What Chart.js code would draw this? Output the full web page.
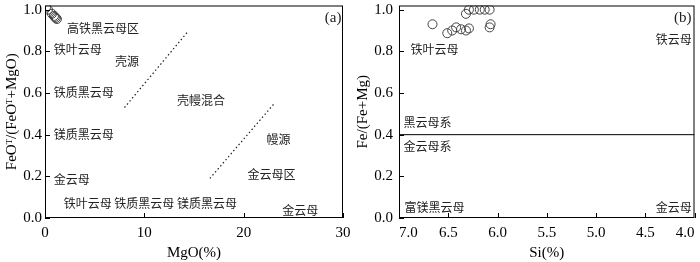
<!DOCTYPE html>
<html lang="zh">
<head>
<meta charset="UTF-8">
<title>黑云母分类图</title>
<script src="https://cdn.jsdelivr.net/npm/chart.js"></script>
<style>
  html,body{margin:0;padding:0;background:#fff;}
  .wrap{position:relative;width:700px;height:262px;}
  .box{position:absolute;top:0;width:350px;height:262px;}
  #boxA{left:0;} #boxB{left:350px;}
</style>
</head>
<body>
<div class="wrap">
  <div class="box" id="boxA"><canvas id="chartA"></canvas></div>
  <div class="box" id="boxB"><canvas id="chartB"></canvas></div>
</div>
<script>
// (a) MgO vs FeOT/(FeOT+MgO)
const mgo      = [0.1, 0.3, 0.7, 0.9, 1.0, 1.1, 1.2];
const feRatioA = [1.01, 1.0, 0.98, 0.97, 0.965, 0.96, 0.955];
const crustLineX  = [8.0, 14.3];
const crustLineY  = [0.53, 0.89];
const mantleLineX = [16.6, 23.0];
const mantleLineY = [0.19, 0.545];
const xTicksA = [0, 10, 20, 30];

// (b) Si vs Fe/(Fe+Mg)
const si       = [6.66, 6.51, 6.46, 6.42, 6.37, 6.32, 6.29, 6.32, 6.29, 6.24, 6.18, 6.13, 6.08, 6.08, 6.07];
const feRatioB = [0.93, 0.887, 0.90, 0.915, 0.906, 0.90, 0.91, 0.98, 1.0, 1.0, 1.0, 1.0, 1.0, 0.915, 0.93];
const boundaryX = [7.0, 4.0];
const boundaryY = [0.4, 0.4];
const xTicksB = [4.0, 4.5, 5.0, 5.5, 6.0, 6.5, 7.0];

const yTicks = [0, 0.2, 0.4, 0.6, 0.8, 1.0];

// text notes placed in data units
const notesA = [
  {t:'高铁黑云母区', x:5.84, y:0.91},
  {t:'铁叶云母', x:3.3, y:0.81},
  {t:'壳源', x:8.26, y:0.75},
  {t:'铁质黑云母', x:3.9, y:0.605},
  {t:'壳幔混合', x:15.7, y:0.563},
  {t:'镁质黑云母', x:3.9, y:0.40},
  {t:'幔源', x:23.5, y:0.376},
  {t:'金云母', x:2.7, y:0.183},
  {t:'金云母区', x:22.8, y:0.211},
  {t:'铁叶云母', x:4.3, y:0.07},
  {t:'铁质黑云母', x:10.0, y:0.07},
  {t:'镁质黑云母', x:16.3, y:0.07},
  {t:'金云母', x:25.7, y:0.038},
  {t:'(a)', x:29.0, y:0.962, serif:true}
];
const notesB = [
  {t:'铁叶云母', x:6.64, y:0.81},
  {t:'铁云母', x:4.21, y:0.855},
  {t:'黑云母系', x:6.71, y:0.46},
  {t:'金云母系', x:6.71, y:0.343},
  {t:'富镁黑云母', x:6.64, y:0.05},
  {t:'金云母', x:4.21, y:0.05},
  {t:'(b)', x:4.12, y:0.962, serif:true}
];

const serif = '"Liberation Serif","Times New Roman",serif';
const cjk = '12px "Noto Sans CJK SC",sans-serif';

// frame, inner tick marks and text notes
const frame = {
  id: 'frame',
  afterDatasetsDraw(chart, args, opts) {
    const {ctx, chartArea: a, scales: {x, y}} = chart;
    ctx.save();
    ctx.strokeStyle = '#000';
    ctx.lineWidth = 1;
    ctx.strokeRect(a.left + 0.5, a.top + 0.5, a.right - a.left - 1, a.bottom - a.top - 1);
    ctx.beginPath();
    x.ticks.forEach(t => {
      const px = Math.round(x.getPixelForValue(t.value)) + 0.5;
      ctx.moveTo(px, a.bottom); ctx.lineTo(px, a.bottom - 5);
    });
    y.ticks.forEach(t => {
      const py = Math.round(y.getPixelForValue(t.value)) + 0.5;
      ctx.moveTo(a.left, py); ctx.lineTo(a.left + 5, py);
    });
    ctx.stroke();
    ctx.fillStyle = '#222';
    ctx.textAlign = 'center';
    ctx.textBaseline = 'middle';
    (opts.notes || []).forEach(n => {
      ctx.font = n.serif ? '15px ' + serif : cjk;
      ctx.fillText(n.t, x.getPixelForValue(n.x), y.getPixelForValue(n.y));
    });
    ctx.restore();
  }
};

function fixTicks(values) {
  return scale => { scale.ticks = values.map(v => ({value: v})); };
}
function noPad(scale) {
  scale.paddingLeft = 0; scale.paddingRight = 0;
  scale.paddingTop = 0; scale.paddingBottom = 0;
}

function makeChart(id, cfg) {
  return new Chart(document.getElementById(id), {
    type: 'scatter',
    data: {datasets: cfg.datasets},
    options: {
      responsive: true,
      maintainAspectRatio: false,
      animation: false,
      events: [],
      layout: {padding: cfg.padding},
      plugins: {legend: {display: false}, tooltip: {enabled: false}, frame: {notes: cfg.notes}},
      scales: {
        x: {
          type: 'linear', min: cfg.xMin, max: cfg.xMax, reverse: cfg.reverse,
          grid: {display: false, drawTicks: false}, border: {display: false},
          afterBuildTicks: fixTicks(cfg.xTicks),
          afterFit: s => { noPad(s); s.height = 44; },
          ticks: {color: '#000', font: {family: serif, size: 15}, padding: 6,
                  maxRotation: 0, align: cfg.xAlign, autoSkip: false,
                  callback: v => cfg.xFmt(v)},
          title: {display: true, text: cfg.xTitle, color: '#000',
                  font: {family: serif, size: 15}, padding: {bottom: 0}}
        },
        y: {
          type: 'linear', min: 0, max: 1.02,
          grid: {display: false, drawTicks: false}, border: {display: false},
          afterBuildTicks: fixTicks(yTicks),
          afterFit: s => { noPad(s); s.width = cfg.yWidth; },
          ticks: {color: '#000', font: {family: serif, size: 15}, padding: cfg.yPad,
                  autoSkip: false, callback: v => v.toFixed(1)},
          title: {display: true, text: cfg.yTitle, color: '#000',
                  font: {family: serif, size: 15}, padding: {top: cfg.yTitlePad}}
        }
      }
    },
    plugins: [frame]
  });
}

const circle = {
  showLine: false, pointStyle: 'circle', pointRadius: 4.5,
  pointBorderColor: '#444', pointBorderWidth: 1, pointBackgroundColor: 'rgba(0,0,0,0)'
};
const zip = (xs, ys) => xs.map((v, i) => ({x: v, y: ys[i]}));

makeChart('chartA', {
  datasets: [
    Object.assign({data: zip(mgo, feRatioA)}, circle),
    {data: zip(crustLineX, crustLineY), showLine: true, pointRadius: 0,
     borderColor: '#222', borderWidth: 1.2, borderDash: [1.5, 2.5]},
    {data: zip(mantleLineX, mantleLineY), showLine: true, pointRadius: 0,
     borderColor: '#222', borderWidth: 1.2, borderDash: [1.5, 2.5]}
  ],
  notes: notesA,
  padding: {left: 0, top: 1, right: 7, bottom: 0},
  xMin: 0, xMax: 30, reverse: false, xTicks: xTicksA, xAlign: 'center',
  xFmt: v => String(v), xTitle: 'MgO(%)',
  yWidth: 45, yPad: 3, yTitlePad: 3, yTitle: 'FeOᵀ/(FeOᵀ+MgO)'
});

makeChart('chartB', {
  datasets: [
    Object.assign({data: zip(si, feRatioB)}, circle),
    {data: zip(boundaryX, boundaryY), showLine: true, pointRadius: 0,
     borderColor: '#000', borderWidth: 1}
  ],
  notes: notesB,
  padding: {left: 0, top: 1, right: 3, bottom: 0},
  xMin: 4, xMax: 7, reverse: true, xTicks: xTicksB, xAlign: 'inner',
  xFmt: v => v.toFixed(1), xTitle: 'Si(%)',
  yWidth: 49, yPad: 6, yTitlePad: 4, yTitle: 'Fe/(Fe+Mg)'
});
</script>
</body>
</html>
